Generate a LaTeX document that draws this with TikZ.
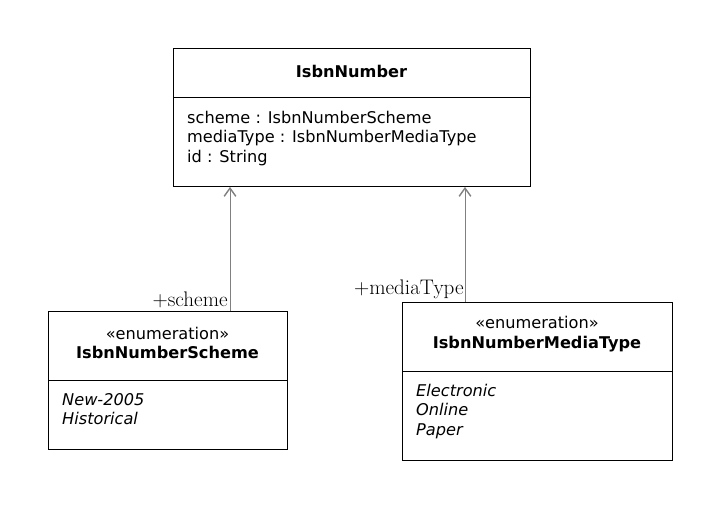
\documentclass[tikz,border=0pt]{standalone}
\usepackage{fontspec}
\setsansfont{DejaVu Sans}
\usetikzlibrary{arrows.meta}
\tikzset{
  box/.style={draw, thick, anchor=north west, inner sep=0pt},
  txt/.style={font=\sffamily\fontsize{13.8}{16.6}\selectfont, align=left, inner sep=0pt},
  ttl/.style={font=\sffamily\fontsize{13.8}{16.6}\selectfont, align=center, inner sep=0pt},
  role/.style={font=\fontsize{18}{20}\selectfont, inner sep=1pt},
  assoc/.style={draw=gray, thick, -{Straight Barb[length=7pt,width=10pt,line width=1.2pt]}}
}
\begin{document}
\begin{tikzpicture}[x=0.03cm,y=-0.03cm]
\useasboundingbox (0,0) rectangle (720,508);
% IsbnNumber
\node[box, minimum width=357*0.03cm, minimum height=138*0.03cm] (num) at (173,48) {};
\draw[thick] (173,97) -- (530,97);
\node[ttl] (numT) at (351.5,71) {\textbf{IsbnNumber}};
\node[txt, anchor=north west] (numA) at (187,111) {scheme : IsbnNumberScheme\\mediaType : IsbnNumberMediaType\\id : String};
% IsbnNumberScheme
\node[box, minimum width=239*0.03cm, minimum height=138*0.03cm] (sch) at (48,311) {};
\draw[thick] (48,380) -- (287,380);
\node[ttl] (schT) at (167.5,343) {«enumeration»\\\textbf{IsbnNumberScheme}};
\node[txt, anchor=north west] (schA) at (62,393) {\itshape New-2005\\\itshape Historical};
% IsbnNumberMediaType
\node[box, minimum width=270*0.03cm, minimum height=158*0.03cm] (med) at (402,302) {};
\draw[thick] (402,371) -- (672,371);
\node[ttl] (medT) at (537,334) {«enumeration»\\\textbf{IsbnNumberMediaType}};
\node[txt, anchor=north west] (medA) at (416,384) {\itshape Electronic\\\itshape Online\\\itshape Paper};
% associations
\coordinate (s1) at (230,311);
\coordinate (m1) at (465,302);
\draw[assoc] (s1) -- (s1 |- num.south);
\draw[assoc] (m1) -- (m1 |- num.south);
\node[role, anchor=south east] (schR) at (229,309) {+scheme};
\node[role, anchor=south east] (medR) at (465,300) {+mediaType};
\end{tikzpicture}
\end{document}
